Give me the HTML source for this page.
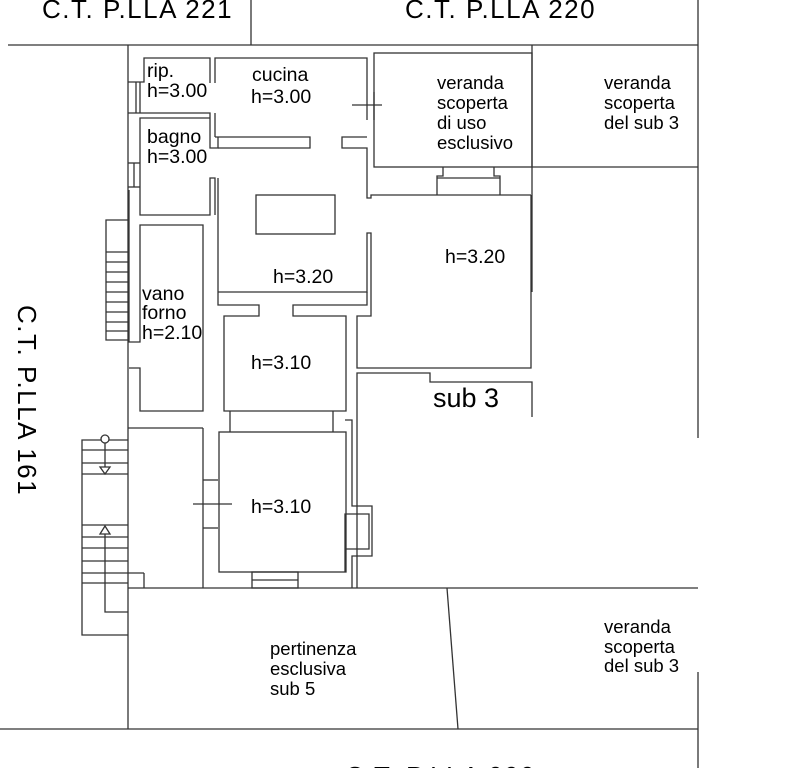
<!DOCTYPE html>
<html><head><meta charset="utf-8"><style>
html,body{margin:0;padding:0;background:#fff;}
svg{display:block;}
text{font-family:"Liberation Sans",sans-serif;fill:#000;}
</style></head><body>
<svg width="803" height="768" viewBox="0 0 803 768" xmlns="http://www.w3.org/2000/svg">
<g stroke="#333" stroke-width="1.3" fill="none">
<line x1="8" y1="45" x2="698" y2="45"/>
<line x1="251" y1="0" x2="251" y2="45"/>
<line x1="698" y1="0" x2="698" y2="438"/>
<line x1="698" y1="672" x2="698" y2="768"/>
<line x1="128" y1="45" x2="128" y2="729"/>
<line x1="128" y1="588" x2="698" y2="588"/>
<line x1="447" y1="588" x2="458" y2="729"/>
<line x1="0" y1="729" x2="698" y2="729"/>
<polyline points="128,82 144,82 144,58 210,58 210,83"/>
<polyline points="215,83 215,58 367,58 367,92"/>
<line x1="136" y1="82" x2="136" y2="113"/><line x1="140" y1="82" x2="140" y2="113"/>
<polyline points="128,113 210,113 210,148 218,148 218,137"/>
<polyline points="140,187 140,118 210,118"/>
<line x1="215" y1="113" x2="215" y2="137"/>
<line x1="128" y1="163" x2="140" y2="163"/><line x1="128" y1="187" x2="140" y2="187"/>
<line x1="134" y1="163" x2="134" y2="187"/>
<polyline points="140,187 140,215 210,215 210,178 215,178 215,215"/>
<polyline points="215,137 310,137 310,148 218,148"/>
<polyline points="367,137 342,137 342,148 367,148 367,198 371,198 371,195 531,195"/>
<line x1="367" y1="92" x2="367" y2="120"/><line x1="374" y1="92" x2="374" y2="120"/>
<line x1="352" y1="105" x2="382" y2="105"/>
<rect x="256" y="195" width="79" height="39"/>
<rect x="374" y="53" width="158" height="114"/>
<line x1="532" y1="45" x2="532" y2="292"/>
<line x1="532" y1="167" x2="698" y2="167"/>
<polyline points="437,195 437,176 443,176 443,167"/>
<polyline points="500,195 500,176 494,176 494,167"/>
<line x1="437" y1="178" x2="500" y2="178"/>
<polyline points="531,195 531,368 357,368 357,316 371,316 371,233 367,233 367,292 218,292"/>
<polyline points="218,178 218,305 259,305 259,316 224,316 224,411 346,411 346,316 293,316 293,305 367,305 367,292"/>
<line x1="230" y1="411" x2="230" y2="432"/><line x1="333" y1="411" x2="333" y2="432"/>
<rect x="219" y="432" width="127" height="140"/>
<rect x="252" y="572" width="46" height="16"/><line x1="252" y1="580" x2="298" y2="580"/>
<polyline points="203,428 203,588"/>
<line x1="203" y1="480" x2="218" y2="480"/><line x1="203" y1="528" x2="218" y2="528"/>
<line x1="193" y1="504" x2="232" y2="504"/>
<polyline points="357,588 357,373 430,373 430,382 532,382 532,417"/>
<polyline points="345,572 345,514 369,514 369,549 345,549"/>
<polyline points="352,588 352,556 372,556 372,506 352,506 352,420 345,420"/>
<polyline points="129,190 129,342 140,342 140,225 203,225 203,411 140,411 140,368 129,368"/>
<polyline points="128,220 106,220 106,340 128,340"/>
<line x1="106" y1="252" x2="128" y2="252"/><line x1="106" y1="262" x2="128" y2="262"/>
<line x1="106" y1="272" x2="128" y2="272"/><line x1="106" y1="282" x2="128" y2="282"/>
<line x1="106" y1="292" x2="128" y2="292"/><line x1="106" y1="302" x2="128" y2="302"/>
<line x1="106" y1="312" x2="128" y2="312"/><line x1="106" y1="322" x2="128" y2="322"/>
<line x1="106" y1="331" x2="128" y2="331"/>
<line x1="128" y1="428" x2="203" y2="428"/>
<polyline points="128,440 82,440 82,635 128,635"/>
<line x1="82" y1="450" x2="128" y2="450"/><line x1="82" y1="463" x2="128" y2="463"/>
<line x1="82" y1="474" x2="128" y2="474"/>
<line x1="82" y1="525" x2="128" y2="525"/><line x1="82" y1="537" x2="128" y2="537"/>
<line x1="82" y1="548" x2="128" y2="548"/><line x1="82" y1="561" x2="128" y2="561"/>
<line x1="82" y1="573" x2="144" y2="573"/><line x1="82" y1="583" x2="128" y2="583"/>
<line x1="144" y1="573" x2="144" y2="588"/>
<circle cx="105" cy="439" r="4" fill="#fff"/>
<line x1="105" y1="443" x2="105" y2="470"/>
<polygon points="100,467 110,467 105,474" fill="#fff"/>
<polygon points="100,534 110,534 105,526" fill="#fff"/>
<polyline points="105,534 105,612 128,612"/>
</g>
<g font-size="26" letter-spacing="1.5">
<text x="42" y="18">C.T. P.LLA 221</text>
<text x="405" y="18">C.T. P.LLA 220</text>
<text x="345" y="785">C.T. P.LLA 000</text>
<text transform="translate(18,305) rotate(90)">C.T. P.LLA 161</text>
</g>
<g font-size="19.5">
<text x="147" y="77">rip.</text><text x="147" y="97">h=3.00</text>
<text x="252" y="81">cucina</text><text x="251" y="103">h=3.00</text>
<text x="147" y="143">bagno</text><text x="147" y="163">h=3.00</text>
<text x="273" y="283">h=3.20</text>
<text x="142" y="300">vano</text><text x="142" y="319">forno</text><text x="142" y="339">h=2.10</text>
<text x="251" y="369">h=3.10</text>
<text x="251" y="513">h=3.10</text>
<text x="445" y="263">h=3.20</text>
</g>
<g font-size="18.5">
<text x="437" y="89">veranda</text><text x="437" y="109">scoperta</text><text x="437" y="129">di uso</text><text x="437" y="149">esclusivo</text>
<text x="604" y="89">veranda</text><text x="604" y="109">scoperta</text><text x="604" y="129">del sub 3</text>
<text x="270" y="655">pertinenza</text><text x="270" y="675">esclusiva</text><text x="270" y="695">sub 5</text>
<text x="604" y="633">veranda</text><text x="604" y="653">scoperta</text><text x="604" y="672">del sub 3</text>
</g>
<text x="433" y="407" font-size="27">sub 3</text>
</svg>
</body></html>
